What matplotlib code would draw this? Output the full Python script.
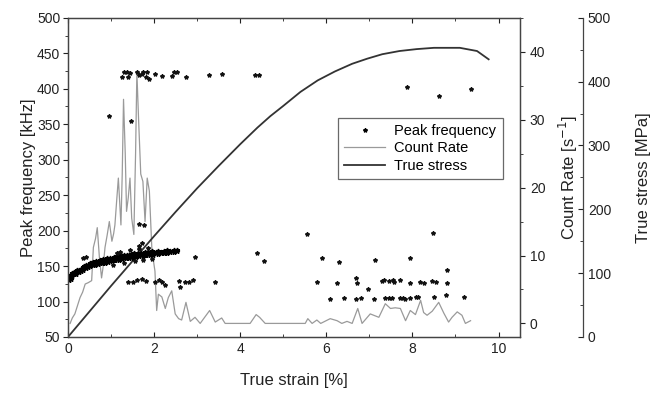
import matplotlib
matplotlib.use('Agg')
import matplotlib.pyplot as plt
from matplotlib.lines import Line2D
from matplotlib.ticker import MultipleLocator

plt.rcParams['font.family'] = ['Liberation Sans', 'DejaVu Sans']

# true stress curve
stress_strain = [0.0, 0.5, 1.0, 1.5, 2.0, 2.5, 3.0, 3.5, 4.0, 4.4, 4.7, 5.0,
                 5.4, 5.8, 6.2, 6.6, 6.95, 7.3, 7.7, 8.1, 8.5, 9.1, 9.5, 9.77]
stress_mpa = [0, 40, 80, 119, 158, 196, 233, 268, 302, 328, 346, 362,
              384, 402, 416, 428, 436, 443, 448, 451, 453, 453, 448, 435]

# count rate
cr_strain = [0.05, 0.10, 0.16, 0.22, 0.28, 0.34, 0.40, 0.47, 0.55, 0.59, 0.64,
             0.68, 0.73, 0.78, 0.82, 0.86, 0.91, 0.96, 1.02, 1.06, 1.09, 1.13,
             1.17, 1.23, 1.26, 1.29, 1.33, 1.36, 1.40, 1.44, 1.48, 1.53, 1.57,
             1.60, 1.64, 1.69, 1.74, 1.79, 1.84, 1.89, 1.95, 2.02, 2.06, 2.10,
             2.18, 2.26, 2.33, 2.41, 2.49, 2.57, 2.64, 2.74, 2.84, 2.95, 3.07,
             3.29, 3.42, 3.57, 3.65, 4.23, 4.37, 4.45, 4.58, 5.51, 5.57, 5.67,
             5.78, 5.87, 6.09, 6.25, 6.36, 6.48, 6.60, 6.73, 6.83, 7.02, 7.22,
             7.37, 7.49, 7.60, 7.72, 7.84, 7.95, 8.07, 8.19, 8.26, 8.34, 8.46,
             8.61, 8.73, 8.84, 8.92, 9.04, 9.15, 9.23, 9.35]
cr_rate = [0, 0.8, 1.4, 2.6, 3.8, 4.6, 5.8, 6.0, 6.3, 11.2, 12.5,
           14.1, 9.7, 6.7, 8.5, 11.2, 13.0, 15.0, 12.1, 13.2, 14.5, 18.0,
           21.4, 14.5, 22.0, 33.0, 25.0, 16.5, 18.5, 21.4, 15.5, 13.1, 25.0,
           37.0, 30.0, 22.0, 20.9, 15.0, 21.4, 19.5, 10.7, 7.7, 1.9, 4.3,
           3.9, 2.2, 3.8, 4.8, 1.4, 0.7, 0.5, 3.1, 0.3, 0.9, 0,
           1.9, 0.2, 0.8, 0, 0, 1.3, 0.9, 0, 0, 0.7, 0,
           0.5, 0, 0.7, 0.4, 0, 0.3, 0, 2.2, 0, 1.4, 0.9,
           2.9, 2.2, 2.3, 2.2, 0.4, 1.9, 1.3, 3.4, 1.6, 1.2, 1.8,
           3.1, 1.5, 0.2, 0.9, 1.7, 1.2, 0, 0.4]

# peak frequency, dense band
band_strain = [0.02, 0.04, 0.06, 0.08, 0.10, 0.14, 0.18, 0.22, 0.26, 0.30, 0.34,
               0.38, 0.42, 0.46, 0.50, 0.54, 0.58, 0.62, 0.66, 0.70, 0.74, 0.78,
               0.82, 0.86, 0.90, 0.94, 0.98, 1.02, 1.06, 1.10, 1.14, 1.18, 1.22,
               1.26, 1.30, 1.34, 1.38, 1.42, 1.46, 1.50, 1.54, 1.58, 1.62, 1.66,
               1.70, 1.74, 1.78, 1.82, 1.86, 1.90, 1.94, 1.98, 2.04, 2.10, 2.16,
               2.22, 2.30, 2.38, 2.46, 2.54]
band_freq_hi = [136, 133, 138, 135, 140, 139, 143, 142, 145, 146, 149,
                148, 152, 151, 154, 153, 156, 155, 157, 156, 159, 157,
                160, 158, 161, 159, 162, 160, 163, 161, 164, 162, 165,
                163, 166, 164, 166, 165, 167, 165, 168, 166, 168, 167,
                169, 167, 170, 168, 170, 169, 171, 169, 170, 171, 170,
                171, 172, 171, 172, 173]
band_freq_lo = [131, 135, 132, 137, 136, 141, 139, 144, 141, 143, 145,
                150, 147, 149, 150, 155, 151, 152, 154, 153, 155, 154,
                156, 155, 157, 156, 158, 157, 159, 158, 160, 159, 161,
                160, 162, 161, 163, 162, 163, 162, 164, 163, 165, 164,
                165, 164, 166, 165, 167, 166, 167, 166, 168, 167, 169,
                168, 169, 170, 170, 171]

# peak frequency, scattered hits
pf_strain = [1.25, 1.29, 1.36, 1.40, 1.44, 1.60, 1.64, 1.71, 1.75, 1.81, 1.84,
             1.89, 2.02, 2.18, 2.41, 2.46, 2.54, 2.74, 3.28, 3.57, 4.35, 4.43,
             0.95, 1.47, 7.88, 8.62, 9.35,
             1.64, 1.76, 1.65, 1.72, 0.36, 0.42, 5.55, 8.48,
             1.05, 1.20, 1.30, 1.45, 1.55, 1.65, 1.75, 1.85, 1.95, 1.15,
             2.95, 4.39, 4.56, 5.91, 6.29, 7.14, 7.95, 8.80,
             1.40, 1.52, 1.61, 1.71, 1.81, 2.02, 2.12, 2.18, 2.26, 2.57, 2.61,
             2.72, 2.80, 2.91, 3.42, 5.78, 6.25, 6.70, 6.72, 6.96, 7.29, 7.34,
             7.45, 7.55, 7.58, 7.70, 7.95, 8.18, 8.26, 8.45, 8.55, 8.80,
             6.09, 6.42, 6.70, 6.80, 7.11, 7.37, 7.45, 7.53, 7.70, 7.78, 7.83,
             7.95, 8.08, 8.13, 8.51, 8.78, 9.20]
pf_freq = [417, 423, 423, 417, 422, 423, 420, 421, 423, 416, 424,
           414, 421, 418, 418, 423, 423, 416, 419, 421, 420, 419,
           361, 355, 402, 390, 399,
           209, 208, 178, 183, 162, 163, 195, 196,
           152, 170, 155, 172, 157, 174, 158, 175, 160, 168,
           163, 169, 157, 161, 156, 158, 161, 145,
           128, 128, 130, 132, 129, 128, 130, 127, 123, 129, 121,
           127, 127, 131, 127, 128, 126, 133, 126, 118, 129, 130,
           129, 131, 128, 131, 126, 128, 126, 129, 128, 126,
           104, 105, 104, 105, 104, 105, 105, 105, 105, 105, 104,
           105, 106, 106, 106, 109, 106]

ink = '#222222'
fig = plt.figure(figsize=(6.6, 3.96), dpi=100)
ax1 = fig.add_axes([0.103, 0.149, 0.685, 0.806])
ax2 = ax1.twinx()
ax3 = ax1.twinx()
ax3.spines['right'].set_position(('axes', 1.139))
for side in ['top', 'left', 'bottom']:
    ax3.spines[side].set_visible(False)

ax1.set_zorder(3)
ax1.patch.set_visible(False)

ax3.plot(stress_strain, stress_mpa, color='#333333', lw=1.3)
ax2.plot(cr_strain, cr_rate, color='#9a9a9a', lw=0.9)
ax1.plot(band_strain, band_freq_hi, ls='none', marker='*', ms=3.5, color='black')
ax1.plot(band_strain, band_freq_lo, ls='none', marker='*', ms=3.5, color='black')
ax1.plot(pf_strain, pf_freq, ls='none', marker='*', ms=3, color='#111111')

ax1.set_xlim(0, 10.5)
ax1.set_ylim(50, 500)
ax2.set_ylim(-2, 45)
ax3.set_ylim(0, 500)

ax1.xaxis.set_major_locator(MultipleLocator(2))
ax1.xaxis.set_minor_locator(MultipleLocator(1))
ax1.yaxis.set_major_locator(MultipleLocator(50))
ax1.yaxis.set_minor_locator(MultipleLocator(25))
ax2.yaxis.set_major_locator(MultipleLocator(10))
ax2.yaxis.set_minor_locator(MultipleLocator(5))
ax3.yaxis.set_major_locator(MultipleLocator(100))
ax3.yaxis.set_minor_locator(MultipleLocator(50))

ax1.tick_params(axis='x', which='both', direction='in', top=True, colors=ink, labelsize=10)
ax1.tick_params(axis='y', which='both', direction='out', colors=ink, labelsize=10, pad=2)
ax2.tick_params(axis='y', which='both', direction='out', colors=ink, labelsize=10)
ax3.tick_params(axis='y', which='both', direction='in', colors=ink, labelsize=10)
for ax in (ax1, ax2, ax3):
    ax.tick_params(which='major', length=3.5, width=0.8)
    ax.tick_params(which='minor', length=2, width=0.6)
    for sp in ax.spines.values():
        sp.set_color('#444444')
        sp.set_linewidth(0.9)

ax1.set_xlabel('True strain [%]', fontsize=12, color=ink, labelpad=12)
ax1.set_ylabel('Peak frequency [kHz]', fontsize=12, color=ink, labelpad=1)
ax2.set_ylabel('Count Rate [s$^{-1}$]', fontsize=12, color=ink, labelpad=8)
ax3.set_ylabel('True stress [MPa]', fontsize=12, color=ink, labelpad=18)

handles = [
    Line2D([], [], ls='none', marker='*', ms=3, color='black'),
    Line2D([], [], color='#9a9a9a', lw=0.9),
    Line2D([], [], color='#333333', lw=1.3),
]
leg = ax1.legend(handles, ['Peak frequency', 'Count Rate', 'True stress'],
                 loc='upper left', bbox_to_anchor=(0.597, 0.687), fontsize=10.5,
                 frameon=True, fancybox=False, handlelength=2.8, borderaxespad=0,
                 borderpad=0.45, labelspacing=0.22, handletextpad=0.6)
leg.get_frame().set_edgecolor('#444444')
leg.get_frame().set_linewidth(0.9)

fig.savefig('out.png', dpi=100)
